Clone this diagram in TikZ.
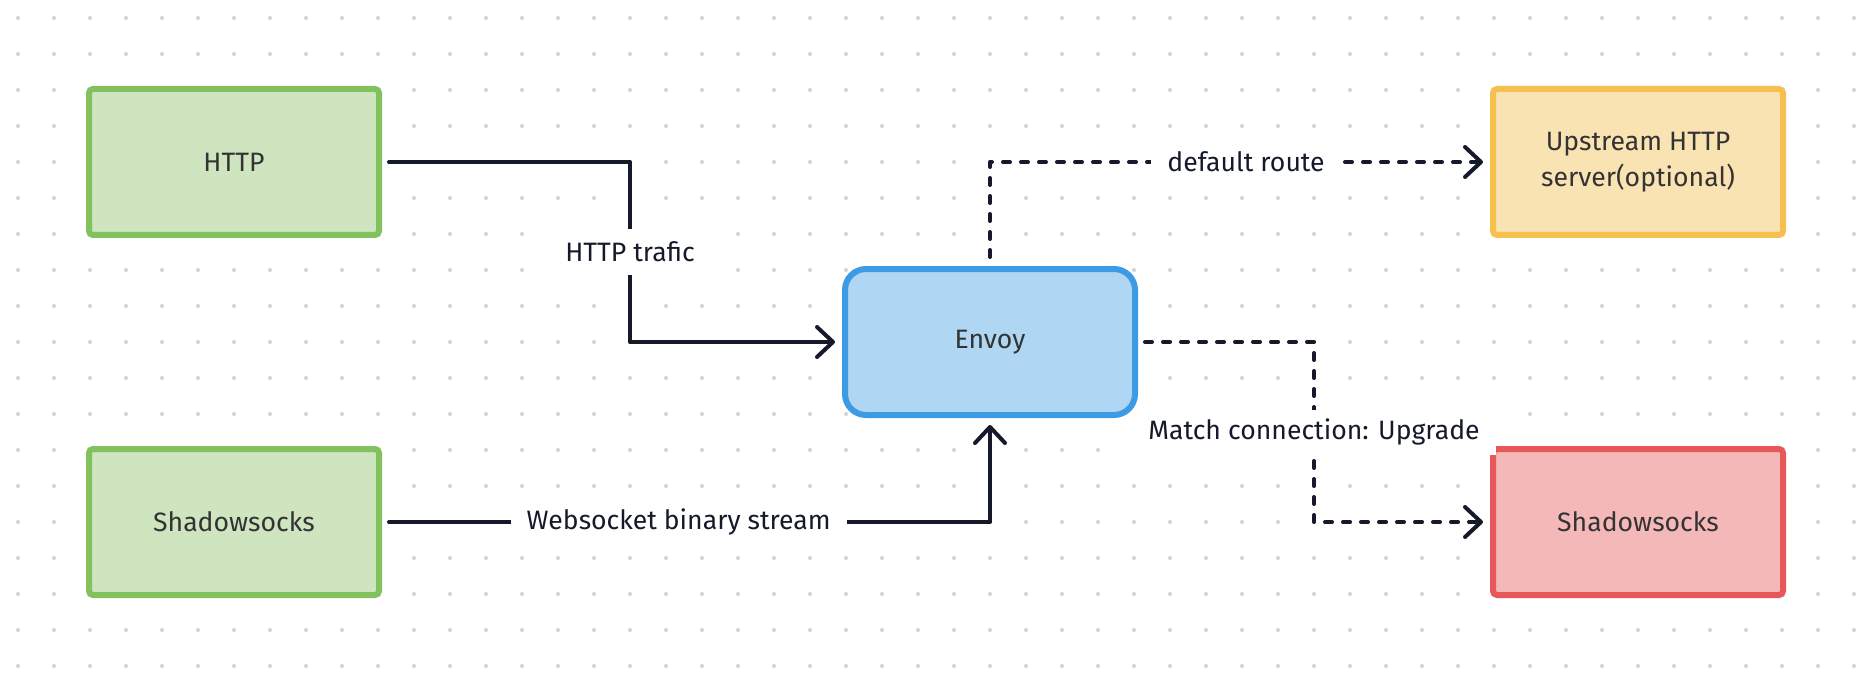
\documentclass[tikz,border=0pt]{standalone}
\usepackage{fontspec}
\setmainfont{Fira Sans}
\usepackage{tikz}
\usetikzlibrary{positioning,arrows.meta}

\definecolor{gridgray}{HTML}{D2D2D2}
\definecolor{ink}{HTML}{151A2B}
\definecolor{boxtext}{HTML}{333333}
\definecolor{greenfill}{HTML}{CEE5BF}
\definecolor{greenline}{HTML}{83C05E}
\definecolor{bluefill}{HTML}{AFD6F2}
\definecolor{blueline}{HTML}{3D9BE5}
\definecolor{yellowfill}{HTML}{F9E3B3}
\definecolor{yellowline}{HTML}{F6C04F}
\definecolor{redfill}{HTML}{F5B8B8}
\definecolor{redline}{HTML}{E8575A}

\begin{document}
\begin{tikzpicture}[x=0.5pt,y=-0.5pt,
    font=\fontsize{13.3}{18}\selectfont,
    box/.style={draw=#1line,fill=#1fill,line width=3pt,rounded corners=2pt,
      minimum width=145pt,minimum height=73pt,align=center,text=boxtext},
    flow/.style={draw=ink,line width=2pt,line cap=round,line join=round,
      shorten <=3.5pt,shorten >=3.5pt,
      -{Straight Barb[length=8pt,width=15pt,line cap=round,line join=round]}},
    route/.style={flow,dash pattern=on 3.5pt off 5.5pt},
    tag/.style={fill=white,text=ink,inner xsep=8pt,inner ysep=0pt,minimum height=22.5pt}]
      \useasboundingbox (0,0) rectangle (1872,684);
      % dot grid
      \foreach \i in {0,...,51}
        \foreach \j in {0,...,18}
          \fill[gridgray] (18+36*\i,18+36*\j) circle (1pt);

      \node[box=green](HTTP) at (234,162){HTTP};
      \node[box=green](ShadowsocksIn) at (234,522){Shadowsocks};
      \node[box=blue,rounded corners=10.5pt](Envoy) at (990,342){Envoy};
      \node[box=yellow](Upstream) at (1638,162){Upstream HTTP\\server(optional)};
      \node[box=red](ShadowsocksOut) at (1638,522){Shadowsocks};

      \coordinate (httpBend) at (630,162);
      \coordinate (matchBend) at (1314,342);

      \draw[flow] (HTTP.east) -- (httpBend) |- node[tag,pos=0.25]{HTTP trafic} (Envoy.west);
      \draw[flow] (ShadowsocksIn.east) -| node[tag,pos=0.244]{Websocket binary stream} (Envoy.south);
      \draw[route,shorten <=4.5pt] (Envoy.north) |- node[tag,pos=0.756]{default route} (Upstream.west);
      \draw[route] (Envoy.east) -- (matchBend) |- node[tag,pos=0.25]{Match connection: Upgrade} (ShadowsocksOut.west);
    \end{tikzpicture}
\end{document}
